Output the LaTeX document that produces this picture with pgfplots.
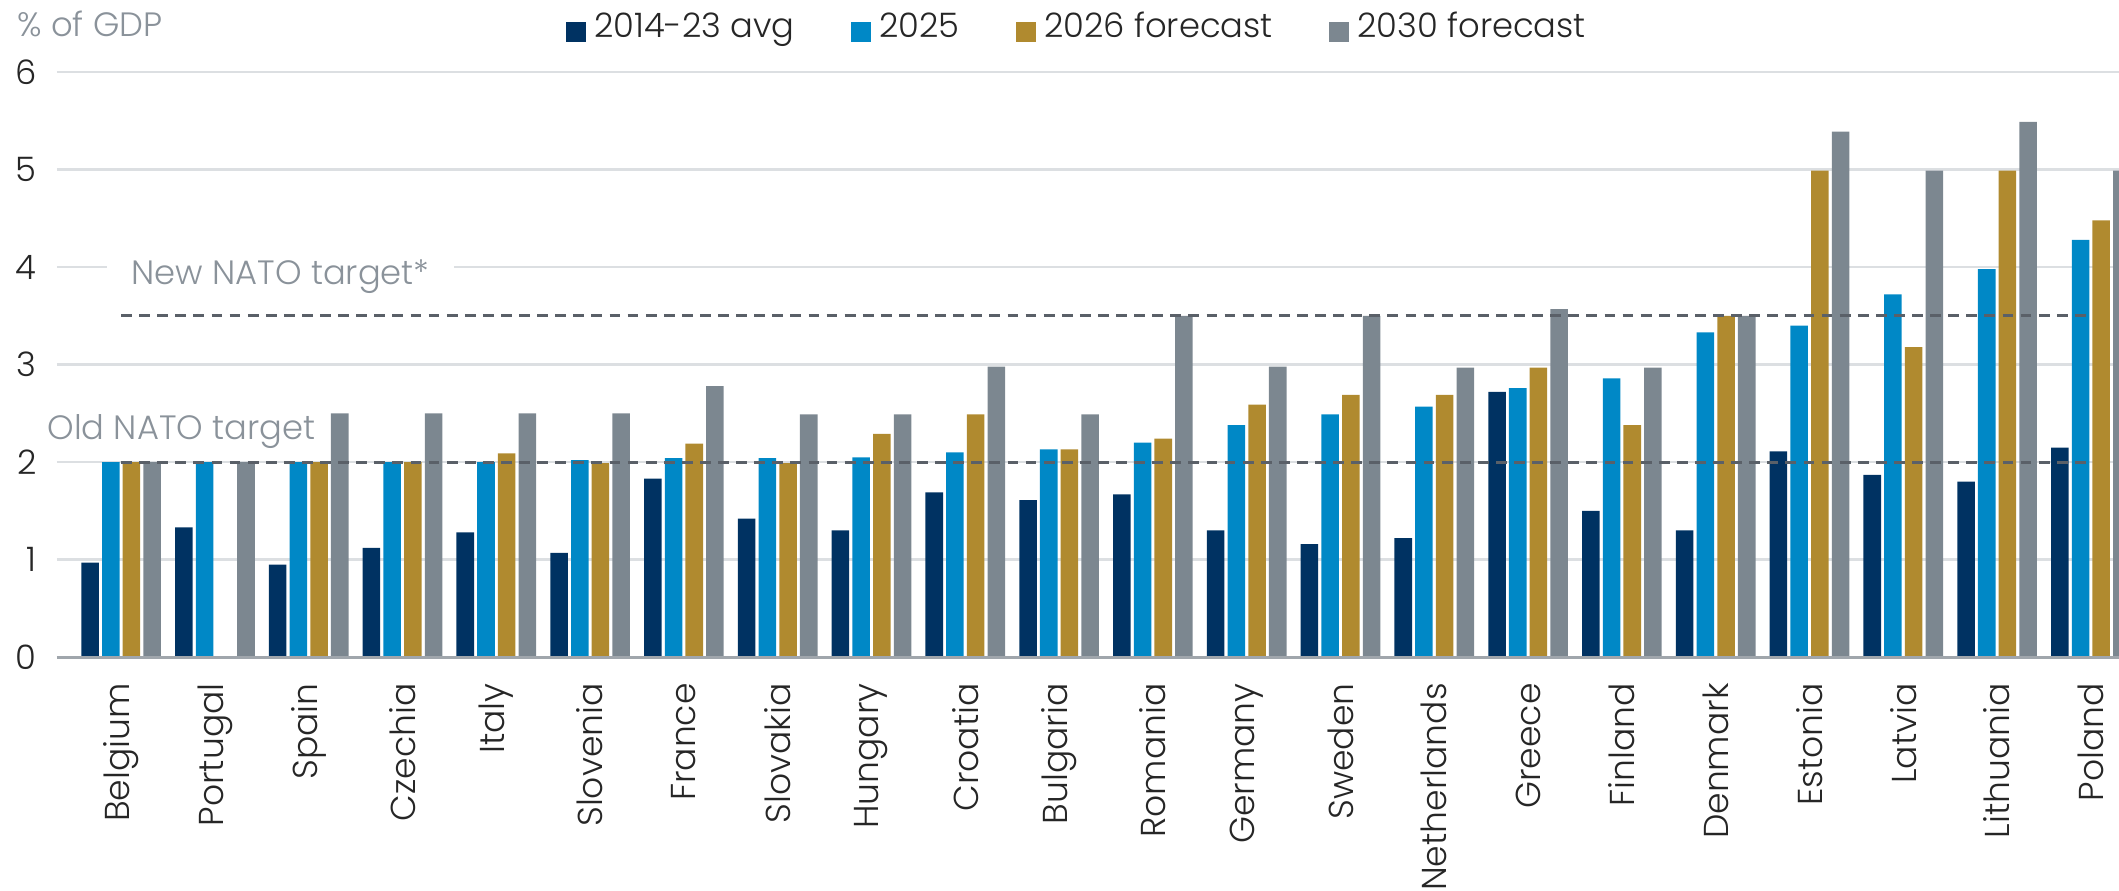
\documentclass[border=0pt]{standalone}
\usepackage{pgfplots}
\usepackage{pgfplotstable}
\pgfplotsset{compat=1.18}
\usepackage{fontspec}
\IfFontExistsTF{Poppins Light}{\setmainfont{Poppins Light}}{\setmainfont{Poppins}}

\definecolor{navy}{RGB}{0,50,98}
\definecolor{skyb}{RGB}{0,136,198}
\definecolor{gold}{RGB}{176,138,47}
\definecolor{slate}{RGB}{124,135,144}
\definecolor{gridc}{RGB}{220,223,226}
\definecolor{basec}{RGB}{160,166,172}
\definecolor{dashc}{RGB}{90,96,104}
\definecolor{labc}{RGB}{138,146,154}

\newcommand\cf{\fontsize{12.5}{15}\selectfont}

% defence spending, % of GDP
\pgfplotstableread{
x  avg  y25  y26  y30
0  0.97 2.00 2.00 2.00
1  1.33 2.00 nan  2.00
2  0.95 2.00 2.00 2.50
3  1.12 2.00 2.00 2.50
4  1.28 2.00 2.09 2.50
5  1.07 2.02 1.99 2.50
6  1.83 2.04 2.19 2.78
7  1.42 2.04 1.99 2.49
8  1.30 2.05 2.29 2.49
9  1.69 2.10 2.49 2.98
10 1.61 2.13 2.13 2.49
11 1.67 2.20 2.24 3.50
12 1.30 2.38 2.59 2.98
13 1.16 2.49 2.69 3.50
14 1.22 2.57 2.69 2.97
15 2.72 2.76 2.97 3.57
16 1.50 2.86 2.38 2.97
17 1.30 3.33 3.50 3.50
18 2.11 3.40 4.99 5.39
19 1.87 3.72 3.18 4.99
20 1.80 3.98 4.99 5.49
21 2.15 4.28 4.48 4.99
}\spend

\pgfplotsset{sqlegend/.style={legend image code/.code={%
  \fill[##1] (0pt,-5.6pt) rectangle (7.4pt,1.8pt); \path (8.4pt,0pt);}}}

\begin{document}
\begin{tikzpicture}
\begin{axis}[
  width=763.7pt, height=216.7pt, scale only axis,
  xmin=-0.684, xmax=21.3, ymin=0, ymax=6,
  clip mode=individual,
  ytick={0,...,6},
  xtick={0,...,21},
  xticklabels={Belgium,Portugal,Spain,Czechia,Italy,Slovenia,France,Slovakia,Hungary,Croatia,Bulgaria,Romania,Germany,Sweden,Netherlands,Greece,Finland,Denmark,Estonia,Latvia,Lithuania,Poland},
  xticklabel style={rotate=90, anchor=east, inner sep=0pt, font=\fontsize{12.8}{15}\selectfont, text=black!85},
  xticklabel shift=9.5pt,
  yticklabel style={font=\cf, text=black!85, xshift=-4pt},
  /pgf/number format/assume math mode=true,
  major tick length=0pt,
  axis line style={draw=none},
  ymajorgrids, grid style={draw=gridc, line width=0.9pt},
  legend columns=4,
  legend style={at={(0.4955,1)}, anchor=center, yshift=16.7pt, draw=none, fill=none,
    font=\cf, text=black!85, /tikz/every even column/.append style={column sep=19pt}},
]
\addplot[ybar, sqlegend, bar width=6.5pt, bar shift=-11.5pt, fill=navy, draw=none] table[x=x, y=avg] {\spend};
\addplot[ybar, sqlegend, bar width=6.5pt, bar shift=-3.83pt, fill=skyb, draw=none] table[x=x, y=y25] {\spend};
\addplot[ybar, sqlegend, bar width=6.5pt, bar shift=3.83pt, fill=gold, draw=none] table[x=x, y=y26] {\spend};
\addplot[ybar, sqlegend, bar width=6.5pt, bar shift=11.5pt, fill=slate, draw=none] table[x=x, y=y30] {\spend};
\legend{2014-23 avg, 2025, 2026 forecast, 2030 forecast}

\draw[basec, line width=1pt] (rel axis cs:0,0) -- (rel axis cs:1,0);

% NATO targets
\addplot[dashc, line width=1.2pt, dash pattern=on 4pt off 2.7pt, forget plot] coordinates {(0,2) (21,2)};
\addplot[dashc, line width=1.2pt, dash pattern=on 4pt off 2.7pt, forget plot] coordinates {(0,3.5) (21,3.5)};

\node[anchor=base west, inner sep=0pt, text=labc, font=\cf] at (axis cs:-0.79,2.23) {Old NATO target};
\node[anchor=base west, fill=white, inner xsep=9pt, inner ysep=1pt, xshift=-9pt, text=labc, font=\cf] at (axis cs:0.107,3.82) {New NATO target*};
\end{axis}
\node[anchor=west, inner sep=0pt, text=labc, font=\cf] at ([xshift=-14.8pt, yshift=17.7pt]current axis.north west) {\% of GDP};
\pgfresetboundingbox
\path[use as bounding box] ([xshift=-21.1pt, yshift=-86.3pt]current axis.south west) rectangle ([yshift=26.7pt]current axis.north east);
\end{tikzpicture}
\end{document}
